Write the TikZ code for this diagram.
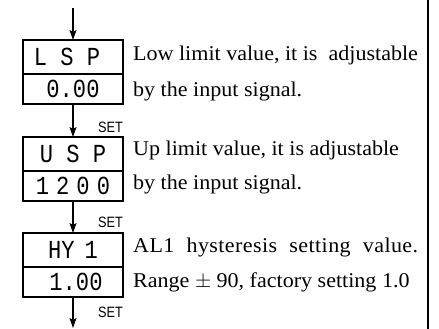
\documentclass[tikz,border=0pt]{standalone}
\usepackage{fontspec}
\newfontfamily\txtfont[FakeStretch=1.05]{Liberation Serif}
\newfontfamily\segfont[FakeStretch=0.85]{Liberation Mono}
\newfontfamily\setfont[FakeStretch=0.85]{Liberation Sans}
\usetikzlibrary{arrows.meta,positioning}

\begin{document}
\begin{tikzpicture}[x=1pt,y=-1pt,
  disp/.style={draw,line width=2pt,outer sep=0pt,inner sep=0pt,minimum width=100pt,minimum height=34pt,font=\segfont\fontsize{26}{26}\selectfont},
  val/.style={disp,minimum height=30pt},
  desc/.style={anchor=base west,inner sep=0pt,font=\txtfont\fontsize{21}{24}\selectfont},
  setlbl/.style={anchor=base east,inner sep=0pt,font=\setfont\fontsize{15}{15}\selectfont},
  flow/.style={-{Stealth[length=10pt,width=7pt,inset=2pt]},line width=1.5pt}]
  \useasboundingbox (0,0) rectangle (439,329);
  \node[disp,anchor=north] (lsp) at (73,40) {L S P\hspace*{12pt}};
  \node[val,below=0pt of lsp] (lspv) {0.00};
  \node[disp,anchor=north] (usp) at (73,137) {U S P};
  \node[val,below=0pt of usp] (uspv) {1\hspace{7pt}2\hspace{7pt}0\hspace{7pt}0};
  \node[disp,anchor=north] (hy) at (73,233) {HY\hspace{10pt}1};
  \node[val,below=0pt of hy] (hyv) {\hspace*{6pt}1.00};
  \coordinate (start) at (73,8);
  \coordinate (end) at (73,328);
  \draw[flow] (start) -- (lsp.north);
  \draw[flow] (lspv.south) -- (usp.north);
  \draw[flow] (uspv.south) -- (hy.north);
  \draw[flow] (hyv.south) -- (end);
  \node[setlbl] (set1) at (123,132) {SET};
  \node[setlbl] (set2) at (123,227) {SET};
  \node[setlbl] (set3) at (123,317) {SET};
  \node[desc] (d1) at (133,61) {Low limit value, it is\ \ adjustable};
  \node[desc] (d2) at (133,96) {by the input signal.};
  \node[desc] (d3) at (133,155) {Up limit value, it is adjustable};
  \node[desc] (d4) at (133,189) {by the input signal.};
  \node[desc] (d5) at (133,252) {\makebox[285pt][s]{\addfontfeature{LetterSpace=2}AL1 hysteresis setting value.}};
  \node[desc] (d6) at (133,287) {Range $\pm$ 90, factory setting 1.0};
  \coordinate (rtop) at (428,0);
  \coordinate (rbot) at (428,329);
  \draw[line width=2.5pt] (rtop) -- (rbot);
\end{tikzpicture}
\end{document}
